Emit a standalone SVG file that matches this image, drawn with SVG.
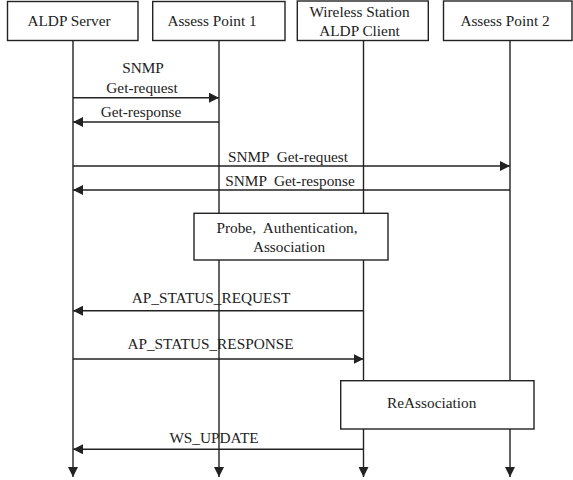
<svg xmlns="http://www.w3.org/2000/svg" width="573" height="480" viewBox="0 0 573 480">
<style>
  .box { fill: #fff; stroke: #222; stroke-width: 1.4; }
  .msg { stroke: #222; stroke-width: 1.4; fill: none; marker-end: url(#ah); }
  .t { font-family: 'Liberation Serif', Tinos, 'DejaVu Serif', serif; font-size: 15.3px; fill: #222; text-anchor: middle; }
</style>
<defs>
  <marker id="ah" markerUnits="userSpaceOnUse" markerWidth="10" markerHeight="10" refX="10" refY="5" orient="auto">
    <path d="M0,0 L10,5 L0,10 z" fill="#222"/>
  </marker>
</defs>
<rect width="573" height="480" fill="#fff"/>

<g id="lifelines">
  <line class="msg" x1="73" y1="40.5" x2="73" y2="477"/>
  <line class="msg" x1="219" y1="40.5" x2="219" y2="477"/>
  <line class="msg" x1="363.5" y1="40.5" x2="363.5" y2="477"/>
  <line class="msg" x1="510" y1="40.5" x2="510" y2="477"/>
</g>

<g id="aldp-server">
  <rect class="box" x="7.5" y="1.5" width="130.5" height="39"/>
  <text class="t" x="69" y="26">ALDP Server</text>
</g>
<g id="access-point-1">
  <rect class="box" x="152.7" y="1.5" width="132.3" height="39"/>
  <text class="t" x="212" y="26">Assess Point 1</text>
</g>
<g id="wireless-station">
  <rect class="box" x="297.3" y="1" width="131" height="39.5"/>
  <text class="t" x="359.5" y="16.5">Wireless Station</text>
  <text class="t" x="359.5" y="35.5">ALDP Client</text>
</g>
<g id="access-point-2">
  <rect class="box" x="443.5" y="1" width="128.5" height="39.5"/>
  <text class="t" x="505" y="26">Assess Point 2</text>
</g>

<g id="probe-auth-assoc">
  <rect class="box" x="194" y="213.3" width="194" height="46.7"/>
  <text class="t" x="287" y="233.3" xml:space="preserve">Probe,  Authentication,</text>
  <text class="t" x="289" y="251.7">Association</text>
</g>
<g id="reassociation">
  <rect class="box" x="340.7" y="380.7" width="193.3" height="48.3"/>
  <text class="t" x="431.7" y="408.3">ReAssociation</text>
</g>

<g id="connectors">
  <line class="msg" x1="73" y1="97.7" x2="219" y2="97.7"/>
  <text class="t" x="143" y="73">SNMP</text>
  <text class="t" x="142" y="93">Get-request</text>
  <line class="msg" x1="219" y1="122" x2="73" y2="122"/>
  <text class="t" x="141" y="117">Get-response</text>
  <line class="msg" x1="73" y1="166" x2="510" y2="166"/>
  <text class="t" x="288" y="161.7" xml:space="preserve">SNMP  Get-request</text>
  <line class="msg" x1="510" y1="190" x2="73" y2="190"/>
  <text class="t" x="290" y="186" xml:space="preserve">SNMP  Get-response</text>
  <line class="msg" x1="363.5" y1="310.7" x2="73" y2="310.7"/>
  <text class="t" x="211" y="303">AP_STATUS_REQUEST</text>
  <line class="msg" x1="73" y1="359" x2="363.5" y2="359"/>
  <text class="t" x="210.5" y="349">AP_STATUS_RESPONSE</text>
  <line class="msg" x1="363.5" y1="449.3" x2="73" y2="449.3"/>
  <text class="t" x="214" y="443.3">WS_UPDATE</text>
</g>
</svg>
